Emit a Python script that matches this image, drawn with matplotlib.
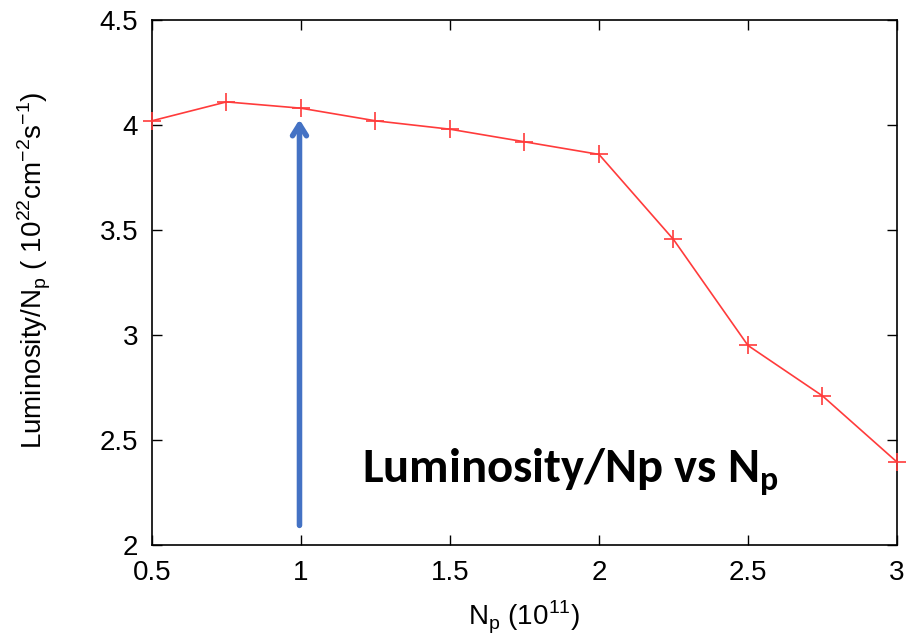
import matplotlib
matplotlib.use("Agg")
import matplotlib.pyplot as plt

np_vals = [0.5, 0.75, 1.0, 1.25, 1.5, 1.75, 2.0, 2.25, 2.5, 2.75, 3.0]
lum_per_np = [4.02, 4.11, 4.08, 4.02, 3.98, 3.92, 3.86, 3.455, 2.95, 2.71, 2.395]
xticks = [0.5, 1, 1.5, 2, 2.5, 3]
xticklabels = ['0.5', '1', '1.5', '2', '2.5', '3']
yticks = [2, 2.5, 3, 3.5, 4, 4.5]
yticklabels = ['2', '2.5', '3', '3.5', '4', '4.5']
arrow_x = 0.995
arrow_from = 2.08
arrow_to = 4.04
title_text = r'Luminosity/Np vs N$_\mathregular{p}$'
xlabel_text = r'N$_\mathregular{p}$ (10$^\mathregular{11}$)'
ylabel_text = r'Luminosity/N$_\mathregular{p}$ ( 10$^\mathregular{22}$cm$^\mathregular{-2}$s$^\mathregular{-1}$)'

plt.rcParams['font.family'] = ['Liberation Sans', 'DejaVu Sans']
fig = plt.figure(figsize=(9.1, 6.41), dpi=100)
ax = fig.add_axes([0.167, 0.1498, 0.8187, 0.819])
ax.plot(np_vals, lum_per_np, color='#ff3b3b', lw=1.2, marker='+', ms=13, mew=1.2, clip_on=False, zorder=3)
ax.set_xlim(0.5, 3)
ax.set_ylim(2, 4.5)
ax.set_xticks(xticks)
ax.set_xticklabels(xticklabels)
ax.set_yticks(yticks)
ax.set_yticklabels(yticklabels)
ax.tick_params(direction='in', top=True, right=True, length=7, width=1, labelsize=20)
ax.tick_params(axis='x', pad=11)
ax.tick_params(axis='y', pad=10)
for s in ax.spines.values():
    s.set_linewidth(1.2)
ax.set_xlabel(xlabel_text, fontsize=20, labelpad=9)
ax.set_ylabel(ylabel_text, fontsize=20)
ax.yaxis.set_label_coords(-0.133, 0.524)
ax.annotate('', xy=(arrow_x, arrow_to), xytext=(arrow_x, arrow_from),
            arrowprops=dict(arrowstyle='->,head_length=0.8,head_width=0.5', color='#4472c4', lw=4),
            zorder=2)
ax.text(1.205, 2.30, title_text, fontsize=35, fontweight='bold',
        family=['Carlito', 'DejaVu Sans'], va='baseline', ha='left')
fig.savefig('out.png', dpi=100)
